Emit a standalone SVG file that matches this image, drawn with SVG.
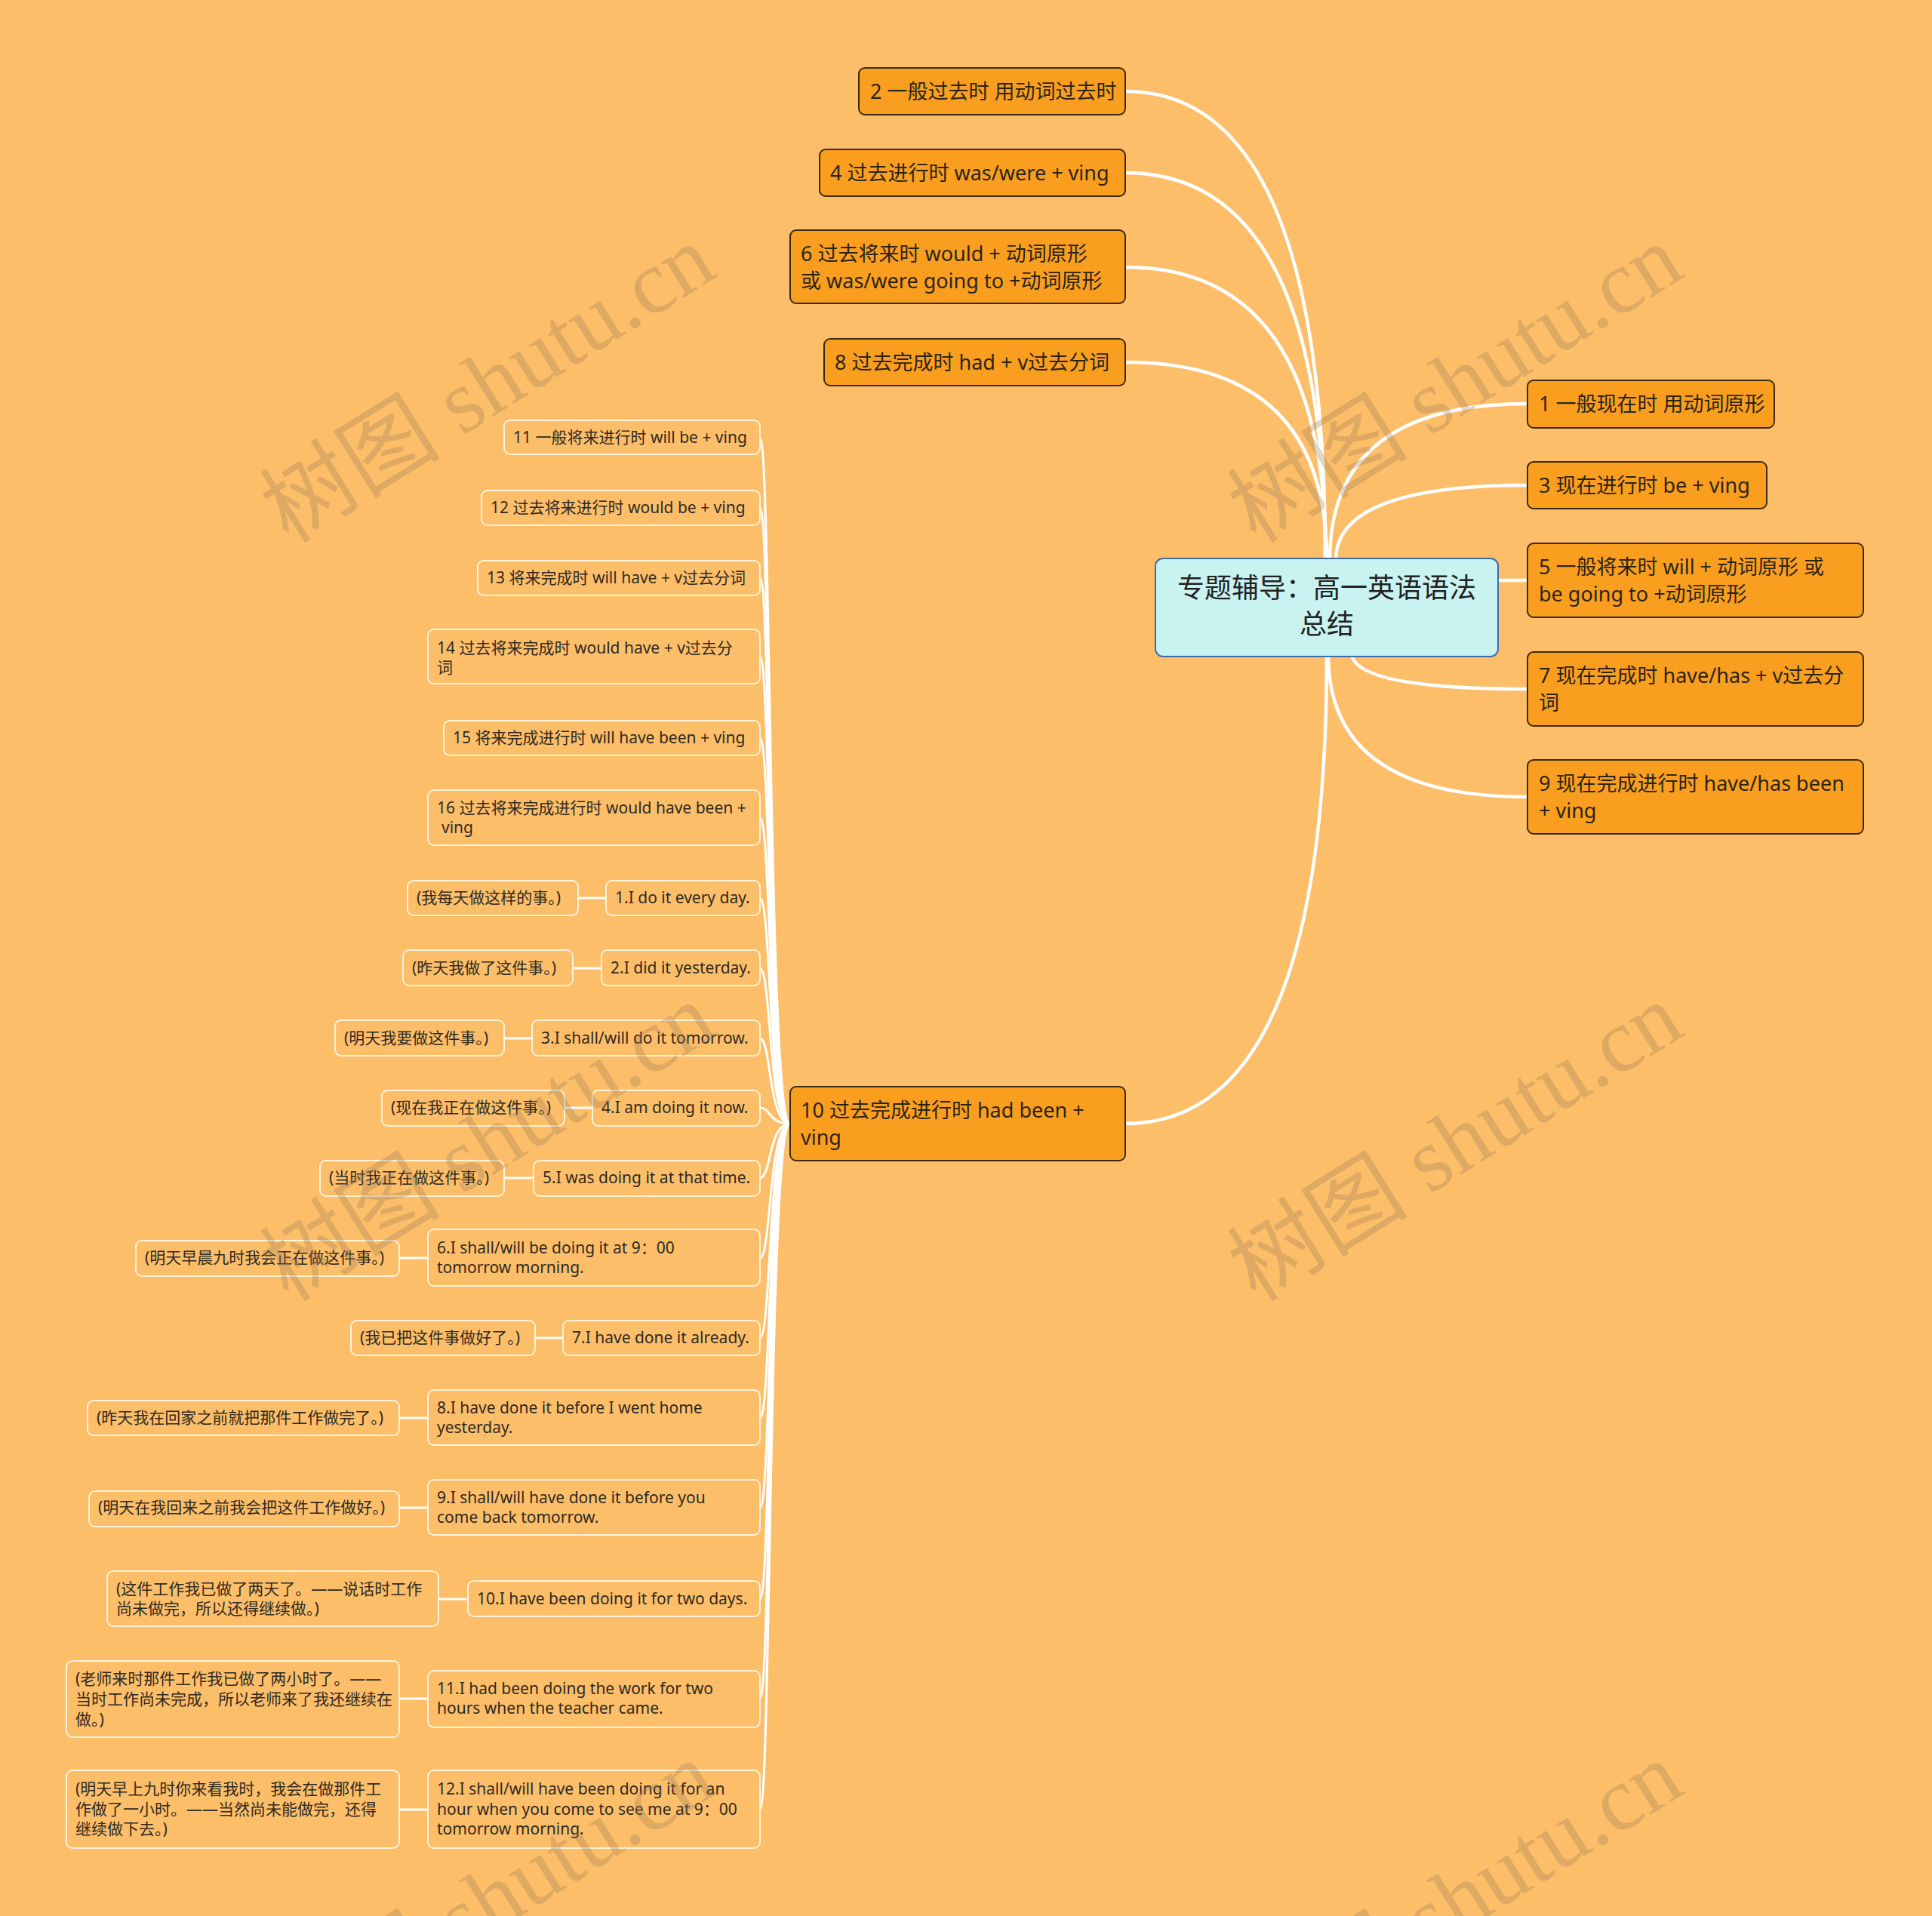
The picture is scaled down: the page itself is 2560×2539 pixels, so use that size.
<svg xmlns="http://www.w3.org/2000/svg" width="2560" height="2539" viewBox="0 0 2560 2539">
<style>
text{font-family:"Noto Sans","Noto Sans CJK SC",sans-serif;fill:#2b2418}
.main rect{fill:#c9f3f0;stroke:#3f6cb0;stroke-width:2}
.main text{font-family:"Noto Sans CJK SC",sans-serif;font-size:36px;text-anchor:middle;fill:#222}
.big rect{fill:#f99e1e;stroke:#3a2a10;stroke-width:2}
.big text{font-size:27px}
.sm rect{fill:#fdbe69;stroke:#fff3da;stroke-width:2}
.sm text{font-size:21px;fill:#2e2a22}
.c path,.c line{fill:none;stroke:#ffffff;stroke-linecap:round}
.c .m{stroke-width:4.5}
.c .s{stroke-width:3}
.wm{font-family:"Liberation Serif","Noto Sans CJK SC",serif;font-size:120px;fill:#9a7a55;opacity:0.3;text-anchor:middle}
</style>
<rect x="0" y="0" width="2560" height="2539" fill="#fdbe69"/>
<g class="c" id="connectors">
<path class="m" d="M1756 742 Q1756 121 1491 121"/>
<path class="m" d="M1756 742 Q1756 229 1491 229"/>
<path class="m" d="M1757 742 Q1757 354 1491 354"/>
<path class="m" d="M1758 742 Q1758 480 1491 480"/>
<path class="m" d="M1762 742 Q1762 535 2024 535"/>
<path class="m" d="M1770 742 Q1770 643 2024 643"/>
<line class="m" x1="1985" y1="769" x2="2024" y2="769"/>
<path class="m" d="M1791 868 Q1800 913 2024 913"/>
<path class="m" d="M1760 868 Q1760 1056 2024 1056"/>
<path class="m" d="M1758 868 Q1758 1489 1491 1489"/>
<path class="s" d="M1007 580 C1022 580 1018 1489 1047 1489"/>
<path class="s" d="M1007 673 C1022 673 1018 1489 1047 1489"/>
<path class="s" d="M1007 766 C1022 766 1018 1489 1047 1489"/>
<path class="s" d="M1007 870 C1022 870 1018 1489 1047 1489"/>
<path class="s" d="M1007 978 C1022 978 1018 1489 1047 1489"/>
<path class="s" d="M1007 1084 C1022 1084 1018 1489 1047 1489"/>
<path class="s" d="M1007 1190 C1022 1190 1018 1489 1047 1489"/>
<path class="s" d="M1007 1283 C1022 1283 1018 1489 1047 1489"/>
<path class="s" d="M1007 1376 C1022 1376 1018 1489 1047 1489"/>
<path class="s" d="M1007 1468 C1022 1468 1018 1489 1047 1489"/>
<path class="s" d="M1007 1561 C1022 1561 1018 1489 1047 1489"/>
<path class="s" d="M1007 1667 C1022 1667 1018 1489 1047 1489"/>
<path class="s" d="M1007 1773 C1022 1773 1018 1489 1047 1489"/>
<path class="s" d="M1007 1879 C1022 1879 1018 1489 1047 1489"/>
<path class="s" d="M1007 1998 C1022 1998 1018 1489 1047 1489"/>
<path class="s" d="M1007 2119 C1022 2119 1018 1489 1047 1489"/>
<path class="s" d="M1007 2251 C1022 2251 1018 1489 1047 1489"/>
<path class="s" d="M1007 2398 C1022 2398 1018 1489 1047 1489"/>
<line class="s" x1="766" y1="1190" x2="803" y2="1190"/>
<line class="s" x1="759" y1="1283" x2="797" y2="1283"/>
<line class="s" x1="668" y1="1376" x2="705" y2="1376"/>
<line class="s" x1="748" y1="1468" x2="785" y2="1468"/>
<line class="s" x1="668" y1="1561" x2="707" y2="1561"/>
<line class="s" x1="529" y1="1667" x2="567" y2="1667"/>
<line class="s" x1="709" y1="1773" x2="746" y2="1773"/>
<line class="s" x1="529" y1="1879" x2="567" y2="1879"/>
<line class="s" x1="529" y1="1998" x2="567" y2="1998"/>
<line class="s" x1="581" y1="2119" x2="620" y2="2119"/>
<line class="s" x1="529" y1="2251" x2="567" y2="2251"/>
<line class="s" x1="529" y1="2398" x2="567" y2="2398"/>
</g>
<g id="main" class="main"><rect x="1531" y="740" width="454" height="130" rx="10"/><text x="1758" y="792">专题辅导：高一英语语法</text><text x="1758" y="840">总结</text></g>
<g id="n1" class="big"><rect x="2024" y="504" width="327" height="63" rx="8"/><text x="2039" y="545">1 一般现在时 用动词原形</text></g>
<g id="n3" class="big"><rect x="2024" y="612" width="317" height="62" rx="8"/><text x="2039" y="653">3 现在进行时 be + ving</text></g>
<g id="n5" class="big"><rect x="2024" y="720" width="445" height="98" rx="8"/><text x="2039" y="761">5 一般将来时 will + 动词原形 或</text><text x="2039" y="797">be going to +动词原形</text></g>
<g id="n7" class="big"><rect x="2024" y="864" width="445" height="98" rx="8"/><text x="2039" y="905">7 现在完成时 have/has + v过去分</text><text x="2039" y="941">词</text></g>
<g id="n9" class="big"><rect x="2024" y="1007" width="445" height="98" rx="8"/><text x="2039" y="1048">9 现在完成进行时 have/has been</text><text x="2039" y="1084">+ ving</text></g>
<g id="n2" class="big"><rect x="1138" y="90" width="353" height="62" rx="8"/><text x="1153" y="131">2 一般过去时 用动词过去时</text></g>
<g id="n4" class="big"><rect x="1086" y="198" width="405" height="62" rx="8"/><text x="1100" y="239">4 过去进行时 was/were + ving</text></g>
<g id="n6" class="big"><rect x="1047" y="305" width="444" height="97" rx="8"/><text x="1061" y="346">6 过去将来时 would + 动词原形</text><text x="1061" y="382">或 was/were going to +动词原形</text></g>
<g id="n8" class="big"><rect x="1092" y="449" width="399" height="62" rx="8"/><text x="1106" y="490">8 过去完成时 had + v过去分词</text></g>
<g id="n10" class="big"><rect x="1047" y="1440" width="444" height="98" rx="8"/><text x="1061" y="1481">10 过去完成进行时 had been +</text><text x="1061" y="1517">ving</text></g>
<g id="s11" class="sm"><rect x="668" y="557" width="339" height="45" rx="8"/><text x="680" y="587">11 一般将来进行时 will be + ving</text></g>
<g id="s12" class="sm"><rect x="638" y="650" width="369" height="46" rx="8"/><text x="650" y="680">12 过去将来进行时 would be + ving</text></g>
<g id="s13" class="sm"><rect x="633" y="743" width="374" height="46" rx="8"/><text x="645" y="773">13 将来完成时 will have + v过去分词</text></g>
<g id="s14" class="sm"><rect x="567" y="834" width="440" height="72" rx="8"/><text x="579" y="866">14 过去将来完成时 would have + v过去分</text><text x="579" y="892">词</text></g>
<g id="s15" class="sm"><rect x="588" y="955" width="419" height="46" rx="8"/><text x="600" y="985">15 将来完成进行时 will have been + ving</text></g>
<g id="s16" class="sm"><rect x="567" y="1047" width="440" height="73" rx="8"/><text x="579" y="1078">16 过去将来完成进行时 would have been +</text><text x="585" y="1104">ving</text></g>
<g id="e1" class="sm"><rect x="803" y="1167" width="204" height="46" rx="8"/><text x="815" y="1197">1.I do it every day.</text></g>
<g id="c1" class="sm"><rect x="540" y="1167" width="226" height="46" rx="8"/><text x="552" y="1197">(我每天做这样的事。)</text></g>
<g id="e2" class="sm"><rect x="797" y="1259" width="210" height="47" rx="8"/><text x="809" y="1290">2.I did it yesterday.</text></g>
<g id="c2" class="sm"><rect x="534" y="1259" width="225" height="47" rx="8"/><text x="546" y="1290">(昨天我做了这件事。)</text></g>
<g id="e3" class="sm"><rect x="705" y="1352" width="302" height="47" rx="8"/><text x="717" y="1383">3.I shall/will do it tomorrow.</text></g>
<g id="c3" class="sm"><rect x="444" y="1352" width="224" height="47" rx="8"/><text x="456" y="1383">(明天我要做这件事。)</text></g>
<g id="e4" class="sm"><rect x="785" y="1445" width="222" height="47" rx="8"/><text x="797" y="1475">4.I am doing it now.</text></g>
<g id="c4" class="sm"><rect x="506" y="1445" width="242" height="47" rx="8"/><text x="518" y="1475">(现在我正在做这件事。)</text></g>
<g id="e5" class="sm"><rect x="707" y="1538" width="300" height="47" rx="8"/><text x="719" y="1568">5.I was doing it at that time.</text></g>
<g id="c5" class="sm"><rect x="424" y="1538" width="244" height="47" rx="8"/><text x="436" y="1568">(当时我正在做这件事。)</text></g>
<g id="e6" class="sm"><rect x="567" y="1629" width="440" height="75" rx="8"/><text x="579" y="1661">6.I shall/will be doing it at 9：00</text><text x="579" y="1687">tomorrow morning.</text></g>
<g id="c6" class="sm"><rect x="180" y="1644" width="349" height="47" rx="8"/><text x="192" y="1674">(明天早晨九时我会正在做这件事。)</text></g>
<g id="e7" class="sm"><rect x="746" y="1750" width="261" height="46" rx="8"/><text x="758" y="1780">7.I have done it already.</text></g>
<g id="c7" class="sm"><rect x="465" y="1750" width="244" height="46" rx="8"/><text x="477" y="1780">(我已把这件事做好了。)</text></g>
<g id="e8" class="sm"><rect x="567" y="1842" width="440" height="73" rx="8"/><text x="579" y="1873">8.I have done it before I went home</text><text x="579" y="1899">yesterday.</text></g>
<g id="c8" class="sm"><rect x="116" y="1856" width="413" height="46" rx="8"/><text x="128" y="1886">(昨天我在回家之前就把那件工作做完了。)</text></g>
<g id="e9" class="sm"><rect x="567" y="1961" width="440" height="73" rx="8"/><text x="579" y="1992">9.I shall/will have done it before you</text><text x="579" y="2018">come back tomorrow.</text></g>
<g id="c9" class="sm"><rect x="118" y="1976" width="411" height="47" rx="8"/><text x="130" y="2005">(明天在我回来之前我会把这件工作做好。)</text></g>
<g id="e10" class="sm"><rect x="620" y="2095" width="387" height="47" rx="8"/><text x="632" y="2126">10.I have been doing it for two days.</text></g>
<g id="c10" class="sm"><rect x="142" y="2082" width="439" height="73" rx="8"/><text x="154" y="2113">(这件工作我已做了两天了。——说话时工作</text><text x="154" y="2139">尚未做完，所以还得继续做。)</text></g>
<g id="e11" class="sm"><rect x="567" y="2214" width="440" height="75" rx="8"/><text x="579" y="2245">11.I had been doing the work for two</text><text x="579" y="2271">hours when the teacher came.</text></g>
<g id="c11" class="sm"><rect x="88" y="2201" width="441" height="101" rx="8"/><text x="100" y="2232">(老师来时那件工作我已做了两小时了。——</text><text x="100" y="2259">当时工作尚未完成，所以老师来了我还继续在</text><text x="100" y="2286">做。)</text></g>
<g id="e12" class="sm"><rect x="567" y="2346" width="440" height="103" rx="8"/><text x="579" y="2378">12.I shall/will have been doing it for an</text><text x="579" y="2405">hour when you come to see me at 9：00</text><text x="579" y="2431">tomorrow morning.</text></g>
<g id="c12" class="sm"><rect x="88" y="2346" width="441" height="103" rx="8"/><text x="100" y="2378">(明天早上九时你来看我时，我会在做那件工</text><text x="100" y="2405">作做了一小时。——当然尚未能做完，还得</text><text x="100" y="2431">继续做下去。)</text></g>
<g id="watermarks">
<text class="wm" transform="translate(668 543) rotate(-32)">树图 shutu.cn</text>
<text class="wm" transform="translate(1950 543) rotate(-32)">树图 shutu.cn</text>
<text class="wm" transform="translate(668 1548) rotate(-32)">树图 shutu.cn</text>
<text class="wm" transform="translate(1950 1548) rotate(-32)">树图 shutu.cn</text>
<text class="wm" transform="translate(668 2553) rotate(-32)">树图 shutu.cn</text>
<text class="wm" transform="translate(1950 2553) rotate(-32)">树图 shutu.cn</text>
</g>
</svg>
